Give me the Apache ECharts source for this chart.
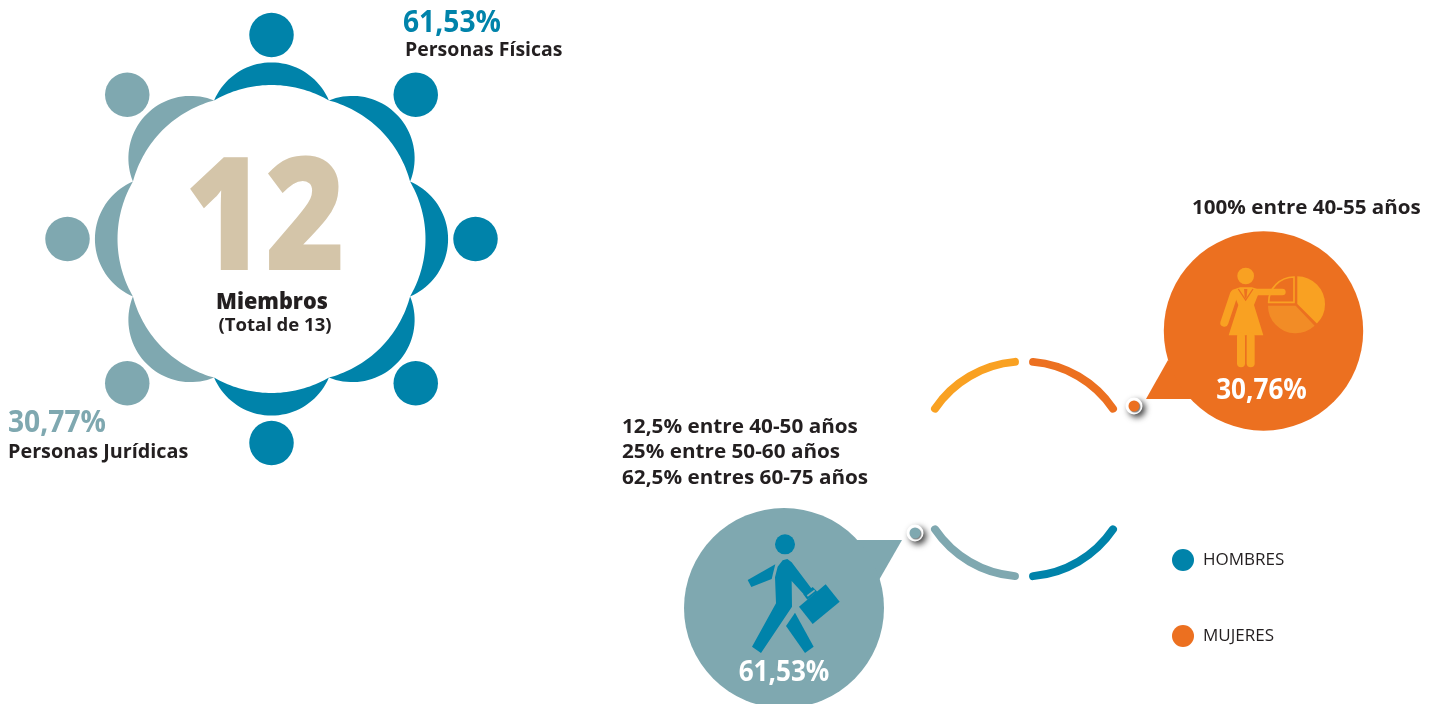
<!DOCTYPE html>
<html lang="es">
<head>
<meta charset="utf-8">
<title>Miembros</title>
<script src="https://cdn.jsdelivr.net/npm/echarts@6/dist/echarts.min.js"></script>
<style>
html, body { margin: 0; padding: 0; background: #fff; }
#chart { width: 1441px; height: 704px; }
</style>
</head>
<body>
<div id="chart"></div>
<script>
// datos
const memberCount = '12';
const seatGroups = ['fisica', 'fisica', 'fisica', 'fisica', 'fisica', 'juridica', 'juridica', 'juridica'];
const ringNames = ['MUJERES', 'a', 'HOMBRES', 'b', 'hombres jur', 'c', 'mujeres 2', 'd'];
const ringValues = [55.3, 64, 55.3, 5.4, 55.3, 64, 55.3, 5.4];
const legendNames = ['HOMBRES', 'MUJERES'];
const shareFisicas = '61,53%';
const shareJuridicas = '30,77%';
const shareHombres = '61,53%';
const shareMujeres = '30,76%';
const agesMujeres = '100% entre 40-55 años';
const agesHombres = ['12,5% entre 40-50 años', '25% entre 50-60 años', '62,5% entres 60-75 años'];

const BLUE = '#0083aa', GREY = '#7fa8b0', ORANGE = '#ec7020', YELLOW = '#f9a122', TAN = '#d4c5a9', INK = '#231f20';
const groupColors = { fisica: BLUE, juridica: GREY };
const FONT = '"Open Sans", "Noto Sans", sans-serif';

// puntos de un arco entre dos extremos, con flecha s hacia fuera
function arcPoints(p1, p2, s, mesa) {
    const mx = (p1[0] + p2[0]) / 2, my = (p1[1] + p2[1]) / 2;
    const half = Math.hypot(p2[0] - p1[0], p2[1] - p1[1]) / 2;
    let nx = mx - mesa[0], ny = my - mesa[1];
    const nl = Math.hypot(nx, ny);
    nx /= nl; ny /= nl;
    const r = (half * half + s * s) / (2 * s);
    const cx = mx + nx * (s - r), cy = my + ny * (s - r);
    const a0 = Math.atan2(p1[1] - cy, p1[0] - cx);
    let a1 = Math.atan2(p2[1] - cy, p2[0] - cx);
    if (a1 < a0) a1 += Math.PI * 2;
    const pts = [];
    for (let i = 0; i <= 40; i++) {
        const a = a0 + (a1 - a0) * i / 40;
        pts.push([cx + r * Math.cos(a), cy + r * Math.sin(a)]);
    }
    return pts;
}

function renderCrescent(params, api) {
    const i = api.value(1);
    const t1 = api.coord([150, (i - 0.5 + 8) % 8]);
    const t2 = api.coord([150, i + 0.5]);
    const mesa = api.coord([0, 0]);
    const outer = arcPoints(t1, t2, 38, mesa);
    const inner = arcPoints(t1, t2, 15.4, mesa).reverse();
    return {
        type: 'polygon',
        shape: { points: outer.concat(inner) },
        style: { fill: groupColors[seatGroups[params.dataIndex]] }
    };
}

function label(text, x, y, size, color, opts) {
    opts = opts || {};
    return {
        type: 'text', x: x, y: y, scaleX: opts.scaleX || 1, z: 10,
        style: {
            text: text, fill: color, fontFamily: FONT, fontSize: size,
            fontWeight: opts.weight || 700,
            textAlign: opts.align || 'left', textVerticalAlign: 'middle'
        }
    };
}

function bubble(cx, cy, r, tail, color) {
    return [
        { type: 'polygon', shape: { points: tail }, style: { fill: color } },
        { type: 'circle', shape: { cx: cx, cy: cy, r: r }, style: { fill: color } }
    ];
}

function pin(cx, cy, color) {
    return [
        { type: 'circle', shape: { cx: cx, cy: cy, r: 8.5 }, z: 5,
          style: { fill: '#fff', shadowBlur: 6, shadowOffsetX: 3, shadowOffsetY: 3, shadowColor: 'rgba(0,0,0,0.75)' } },
        { type: 'circle', shape: { cx: cx, cy: cy, r: 5.5 }, z: 6,
          style: { fill: color, shadowBlur: 1, shadowOffsetX: 1, shadowOffsetY: 1, shadowColor: 'rgba(0,0,0,0.5)' } }
    ];
}

function limb(points, width, color) {
    return { type: 'polyline', shape: { points: points },
             style: { stroke: color, lineWidth: width, lineCap: 'round', lineJoin: 'round', fill: 'none' } };
}

// icono mujer, coordenadas del recorte x3
const womanIcon = {
    type: 'group', x: 1130, y: 190, scaleX: 1 / 3, scaleY: 1 / 3, z: 4,
    children: [
        { type: 'sector', shape: { cx: 492, cy: 337, r: 76, r0: 0, startAngle: Math.PI, endAngle: Math.PI * 1.5 },
          style: { fill: 'none', stroke: YELLOW, lineWidth: 5 } },
        { type: 'sector', shape: { cx: 502, cy: 342, r: 83, r0: 0, startAngle: -Math.PI / 2, endAngle: Math.PI / 4 },
          style: { fill: YELLOW } },
        { type: 'sector', shape: { cx: 497, cy: 347, r: 83, r0: 0, startAngle: Math.PI * 0.26, endAngle: Math.PI },
          style: { fill: '#f28c26' } },
        { type: 'circle', shape: { cx: 347, cy: 258, r: 25 }, style: { fill: YELLOW } },
        limb([[312, 312], [283, 398]], 24, YELLOW),
        limb([[370, 306], [457, 306]], 20, YELLOW),
        { type: 'polygon', shape: { points: [[306, 300], [330, 292], [366, 292], [390, 300], [372, 345], [400, 436], [296, 436], [325, 345]] },
          style: { fill: YELLOW } },
        limb([[333, 440], [333, 520]], 24, YELLOW),
        limb([[362, 440], [362, 520]], 24, YELLOW),
        { type: 'polyline', shape: { points: [[325, 297], [347, 330], [369, 297]] },
          style: { stroke: ORANGE, lineWidth: 4, fill: 'none' } },
        { type: 'polygon', shape: { points: [[342, 297], [352, 297], [350, 320], [347, 326], [344, 320]] },
          style: { fill: ORANGE } }
    ]
};

// icono hombre, coordenadas del recorte x3
const manIcon = {
    type: 'group', x: 680, y: 500, scaleX: 1 / 3, scaleY: 1 / 3, z: 4,
    children: [
        { type: 'circle', shape: { cx: 315, cy: 133, r: 30 }, style: { fill: BLUE } },
        { type: 'polygon', shape: { points: [[203, 240], [286, 193], [275, 237], [214, 261]] }, style: { fill: BLUE } },
        { type: 'polygon', shape: { points: [[308, 181], [322, 177], [335, 187], [396, 268], [376, 288], [335, 243], [336, 320], [243, 459], [216, 440], [288, 310], [285, 232], [293, 200]] },
          style: { fill: BLUE } },
        { type: 'polygon', shape: { points: [[345, 338], [401, 440], [375, 459], [318, 378]] }, style: { fill: BLUE } },
        { type: 'polygon', shape: { points: [[357, 320], [437, 253], [479, 305], [398, 372]] }, style: { fill: BLUE } },
        { type: 'polygon', shape: { points: [[370, 283], [398, 261], [412, 275], [382, 299]] }, style: { fill: BLUE } },
        { type: 'polyline', shape: { points: [[382, 288], [404, 271]] }, style: { stroke: GREY, lineWidth: 5, fill: 'none' } }
    ]
};

const chart = echarts.init(document.getElementById('chart'));
chart.setOption({
    backgroundColor: '#fff',
    animation: false,
    legend: {
        data: legendNames, left: 1167, top: 544, orient: 'vertical',
        icon: 'circle', itemWidth: 22, itemHeight: 22, itemGap: 54, selectedMode: false,
        textStyle: { fontFamily: FONT, fontSize: 17, color: INK, padding: [0, 0, 0, 4] }
    },
    polar: { center: [271.5, 239], radius: 240 },
    radiusAxis: { min: 0, max: 240, show: false },
    angleAxis: { type: 'value', min: 0, max: 8, startAngle: 90, show: false },
    series: [
        {
            type: 'custom', coordinateSystem: 'polar', renderItem: renderCrescent, silent: true,
            data: seatGroups.map((g, i) => [176, i])
        },
        {
            type: 'scatter', coordinateSystem: 'polar', symbolSize: 44.5, silent: true,
            data: seatGroups.map((g, i) => ({ value: [204, i], itemStyle: { color: groupColors[g], opacity: 1 } }))
        },
        {
            type: 'pie', center: [1024, 469], radius: [103.5, 111.5], startAngle: 87.3, silent: true,
            itemStyle: { borderRadius: 4 },
            label: { show: false }, labelLine: { show: false }, emphasis: { disabled: true },
            data: ringNames.map((n, i) => ({
                name: n, value: ringValues[i],
                itemStyle: { color: [ORANGE, 'transparent', BLUE, 'transparent', GREY, 'transparent', YELLOW, 'transparent'][i] }
            }))
        }
    ],
    graphic: { elements: [].concat(
        bubble(1263.5, 331, 99.7, [[1146, 399], [1168, 360], [1200, 399]], ORANGE),
        bubble(784, 608, 100, [[902, 540], [850, 540], [879, 580]], GREY),
        pin(1134, 406, ORANGE),
        pin(915, 533, GREY),
        [
            womanIcon,
            manIcon,
            label(memberCount, 265, 225, 158, TAN, { align: 'center', weight: 800, scaleX: 0.87 }),
            label('Miembros', 272, 302, 23, INK, { align: 'center', weight: 800, scaleX: 0.94 }),
            label('(Total de 13)', 275, 326, 18, INK, { align: 'center', scaleX: 1.03 }),
            label(shareFisicas, 403, 23, 30, BLUE, { scaleX: 0.94 }),
            label('Personas Físicas', 405, 50, 20, INK, { scaleX: 0.975 }),
            label(shareJuridicas, 8, 423, 30, GREY, { scaleX: 0.94 }),
            label('Personas Jurídicas', 8, 452, 20, INK, { scaleX: 0.99 }),
            label(agesMujeres, 1192, 208, 20, INK, { scaleX: 1.03 }),
            label(agesHombres[0], 622, 427, 20, INK, { scaleX: 1.035 }),
            label(agesHombres[1], 622, 452, 20, INK, { scaleX: 1.035 }),
            label(agesHombres[2], 622, 478, 20, INK, { scaleX: 1.035 }),
            label(shareMujeres, 1261.5, 391, 29, '#fff', { align: 'center', scaleX: 0.9 }),
            label(shareHombres, 784, 673, 29, '#fff', { align: 'center', scaleX: 0.9 })
        ]
    ) }
});
</script>
</body>
</html>
